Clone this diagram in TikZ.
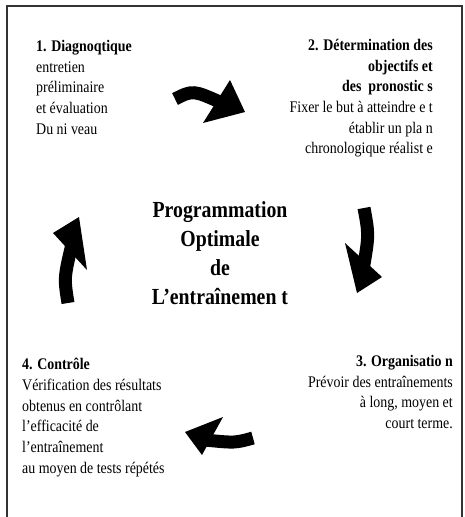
\documentclass[tikz,border=0pt]{standalone}
\usepackage{fontspec}
\setmainfont{Liberation Serif}[FakeStretch=0.86]
\begin{document}
\begin{tikzpicture}[x=1pt,y=-1pt,
  txt/.style={inner sep=0pt, font=\fontsize{16.2}{20.7}\selectfont},
  ttl/.style={inner sep=0pt, font=\bfseries\fontsize{23}{29}\selectfont, align=center},
  shaft/.style={line width=13pt, black},
  head/.style={fill=black}]
\useasboundingbox (0,0) rectangle (465,517);
\clip (0,0) rectangle (465,517);
\fill[white] (0,0) rectangle (465,517);
\draw[line width=1.8pt, black!80] (7,6) rectangle (462,540);

\node[txt, anchor=north west, align=left] (diag) at (36,40)
  {{\bfseries 1. Diagnoqtique}\\entretien\\préliminaire\\et évaluation\\Du ni veau};
\node[txt, anchor=north east, align=right] (determ) at (433,39)
  {{\bfseries 2. Détermination des}\\{\bfseries objectifs et}\\{\bfseries des\ \ pronostic s}\\Fixer le but à atteindre e t\\établir un pla n\\chronologique réalist e};
\node[txt, anchor=north east, align=right] (orga) at (453,355)
  {{\bfseries 3. Organisatio n}\\Prévoir des entraînements\\à long, moyen et\\court terme.};
\node[txt, anchor=north west, align=left] (ctrl) at (22,358)
  {{\bfseries 4. Contrôle}\\Vérification des résultats\\obtenus en contrôlant\\l’efficacité de\\l’entraînement\\au moyen de tests répétés};
\node[ttl, anchor=north] (prog) at (220,201)
  {Programmation\\Optimale\\de\\L’entraînemen t};

% arrow 1 (top)
\coordinate (a1s) at (175,99);
\coordinate (a1e) at (222,103);
\draw[shaft] (a1s) .. controls (193,90) .. (a1e);
\fill[head] (230,80) -- (245,112) -- (203,123) -- cycle;
% arrow 2 (right)
\coordinate (a2s) at (364,208);
\coordinate (a2e) at (363,270);
\draw[shaft] (a2s) .. controls (369,235) .. (a2e);
\fill[head] (345,243) -- (382,277) -- (357,293) -- cycle;
% arrow 3 (bottom)
\coordinate (a3s) at (253,438);
\coordinate (a3e) at (205,440);
\draw[shaft] (a3s) .. controls (235,443) .. (a3e);
\fill[head] (223,417) -- (185,432) -- (202,455) -- cycle;
% arrow 4 (left)
\coordinate (a4s) at (68,303);
\coordinate (a4e) at (72,244);
\draw[shaft] (a4s) .. controls (64,278) .. (a4e);
\fill[head] (53,233) -- (79,217) -- (87,270) -- cycle;
\end{tikzpicture}
\end{document}
